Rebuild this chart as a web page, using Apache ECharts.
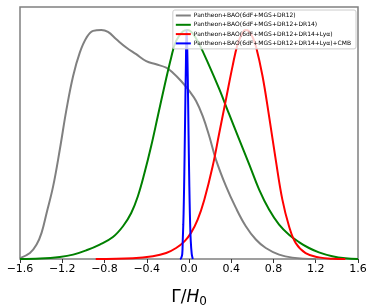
<!DOCTYPE html>
<html><head><meta charset="utf-8">
<script src="https://cdn.jsdelivr.net/npm/echarts@6/dist/echarts.min.js"></script>
<style>html,body{margin:0;padding:0;background:#fff}#c{width:374px;height:307px}</style>
</head><body><div id="c"></div>
<script>
// Γ/H0 values and normalised posterior densities
const greyX = [-1.6,-1.506,-1.443,-1.396,-1.348,-1.286,-1.223,-1.16,-1.097,-1.034,-0.971,-0.908,-0.83,-0.767,-0.688,-0.594,-0.5,-0.405,-0.311,-0.216,-0.153,-0.075,0.004,0.067,0.13,0.192,0.255,0.35,0.444,0.538,0.633,0.727,0.853,0.979,1.2];
const greyY = [0.004,0.026,0.063,0.114,0.201,0.318,0.478,0.653,0.799,0.901,0.966,0.996,1.0,0.991,0.959,0.923,0.894,0.864,0.85,0.835,0.813,0.777,0.733,0.69,0.624,0.536,0.434,0.318,0.223,0.143,0.085,0.048,0.019,0.006,0.0];
const greenX = [-1.6,-1.41,-1.223,-1.097,-0.971,-0.845,-0.72,-0.625,-0.547,-0.484,-0.421,-0.358,-0.295,-0.232,-0.169,-0.122,-0.059,-0.012,0.035,0.098,0.192,0.287,0.381,0.475,0.57,0.664,0.758,0.853,0.947,1.041,1.136,1.23,1.356,1.48,1.6];
const greenY = [0.0,0.002,0.009,0.019,0.038,0.063,0.096,0.143,0.201,0.274,0.376,0.493,0.624,0.755,0.879,0.952,0.993,1.0,0.985,0.937,0.843,0.741,0.631,0.522,0.413,0.303,0.216,0.15,0.106,0.074,0.048,0.029,0.012,0.003,0.0];
const redX = [-0.883,-0.531,-0.342,-0.216,-0.122,-0.043,0.019,0.082,0.145,0.224,0.287,0.35,0.413,0.46,0.507,0.535,0.565,0.6,0.633,0.696,0.758,0.821,0.884,0.947,1.01,1.104,1.23,1.356,1.48];
const redY = [0.0,0.003,0.012,0.026,0.048,0.077,0.114,0.172,0.259,0.405,0.551,0.697,0.843,0.937,0.988,1.0,0.995,0.97,0.93,0.799,0.624,0.434,0.259,0.143,0.07,0.026,0.007,0.001,0.0];
const blueX = [-0.085,-0.074,-0.064,-0.059,-0.054,-0.049,-0.044,-0.039,-0.034,-0.029,-0.024,-0.019,-0.014,-0.009,-0.004,0.001,0.006,0.011,0.016,0.026,0.036];
const blueY = [0.0,0.004,0.021,0.085,0.151,0.249,0.381,0.54,0.707,0.857,1.0,0.962,0.857,0.707,0.54,0.381,0.249,0.151,0.085,0.021,0.0];
const seriesNames = [
  'Pantheon+BAO(6dF+MGS+DR12)',
  'Pantheon+BAO(6dF+MGS+DR12+DR14)',
  'Pantheon+BAO(6dF+MGS+DR12+DR14+Lyα)',
  'Pantheon+BAO(6dF+MGS+DR12+DR14+Lyα)+CMB'
];
const xTicks = [-1.6,-1.2,-0.8,-0.4,0.0,0.4,0.8,1.2,1.6];

const pairs = (xs, ys) => xs.map((x, i) => [x, ys[i]]);
const colors = ['#808080', '#008000', '#ff0000', '#0000ff'];
const allData = [pairs(greyX, greyY), pairs(greenX, greenY), pairs(redX, redY), pairs(blueX, blueY)];

const chart = echarts.init(document.getElementById('c'), null, {renderer: 'canvas'});
chart.setOption({
  animation: false,
  textStyle: {fontFamily: 'DejaVu Sans'},
  grid: {left: 20, right: 16, top: 7, bottom: 48, show: true, borderColor: '#808080', borderWidth: 1.5, backgroundColor: 'transparent', containLabel: false, outerBoundsMode: 'none'},
  xAxis: {
    type: 'value', min: -1.6, max: 1.6, interval: 0.4,
    axisLine: {show: false},
    axisTick: {show: true, length: 4, inside: false, lineStyle: {color: '#333', width: 1}},
    splitLine: {show: false},
    axisLabel: {color: '#000', fontSize: 11, margin: 5,
      formatter: v => { const t = xTicks.find(a => Math.abs(a - v) < 1e-6); const s = (t === undefined ? v : t).toFixed(1); return s.replace('-', '\u2212'); }},
    name: '{n|Γ/}{i|H}{s|0}',
    nameLocation: 'middle', nameGap: 29,
    nameTextStyle: {rich: {
      n: {fontSize: 17, color: '#000', fontFamily: 'DejaVu Sans'},
      i: {fontSize: 17, color: '#000', fontStyle: 'italic', fontFamily: 'DejaVu Sans'},
      s: {fontSize: 12, color: '#000', fontFamily: 'DejaVu Sans', padding: [8, 0, 0, 0]}
    }}
  },
  yAxis: {type: 'value', min: 0, max: 1.1, show: false},
  legend: {
    orient: 'vertical', right: 18, top: 10, z: 10,
    itemWidth: 15, itemHeight: 2, itemGap: 2.3, icon: 'rect',
    backgroundColor: 'rgba(255,255,255,0.8)', borderColor: '#cccccc', borderWidth: 1, borderRadius: 2,
    padding: [2, 5, 2, 3],
    textStyle: {fontSize: 6, lineHeight: 7, color: '#000', padding: [0, 0, 0, -2]},
    data: seriesNames
  },
  series: allData.map((d, i) => ({
    name: seriesNames[i], type: 'line', data: d, smooth: 0.4, showSymbol: false,
    lineStyle: {color: colors[i], width: 2}, itemStyle: {color: colors[i]}, z: 2 + i
  }))
});
</script></body></html>
